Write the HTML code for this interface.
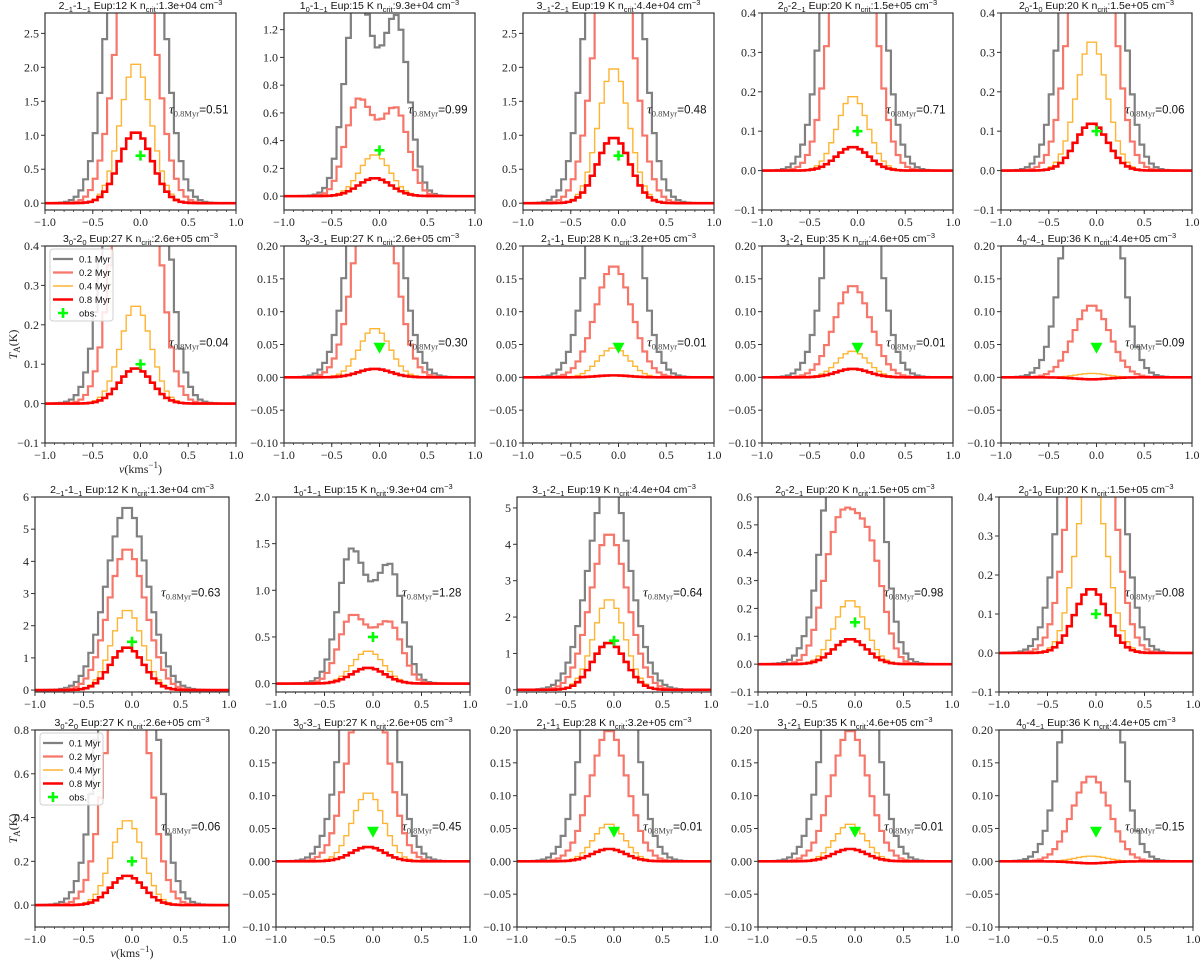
<!DOCTYPE html>
<html><head><meta charset="utf-8"><title>Line profiles grid</title>
<style>
html,body{margin:0;padding:0;background:#fff;}
svg{display:block;}
.tk{font-family:"Liberation Serif",serif;font-size:12px;fill:#222;}
.tt{font-family:"Liberation Sans",sans-serif;font-size:10.5px;fill:#111;}
.lg{font-family:"Liberation Sans",sans-serif;font-size:9.5px;fill:#111;}
</style></head>
<body>
<svg id="fig" width="1200" height="962" viewBox="0 0 1200 962" xmlns="http://www.w3.org/2000/svg"></svg>
<script>
const titles=["2<sub>−1</sub>-1<sub>−1</sub> Eup:12 K n<sub>crit</sub>:1.3e+04 cm<sup>−3</sup>","1<sub>0</sub>-1<sub>−1</sub> Eup:15 K n<sub>crit</sub>:9.3e+04 cm<sup>−3</sup>","3<sub>−1</sub>-2<sub>−1</sub> Eup:19 K n<sub>crit</sub>:4.4e+04 cm<sup>−3</sup>","2<sub>0</sub>-2<sub>−1</sub> Eup:20 K n<sub>crit</sub>:1.5e+05 cm<sup>−3</sup>","2<sub>0</sub>-1<sub>0</sub> Eup:20 K n<sub>crit</sub>:1.5e+05 cm<sup>−3</sup>",
"3<sub>0</sub>-2<sub>0</sub> Eup:27 K n<sub>crit</sub>:2.6e+05 cm<sup>−3</sup>","3<sub>0</sub>-3<sub>−1</sub> Eup:27 K n<sub>crit</sub>:2.6e+05 cm<sup>−3</sup>","2<sub>1</sub>-1<sub>1</sub> Eup:28 K n<sub>crit</sub>:3.2e+05 cm<sup>−3</sup>","3<sub>1</sub>-2<sub>1</sub> Eup:35 K n<sub>crit</sub>:4.6e+05 cm<sup>−3</sup>","4<sub>0</sub>-4<sub>−1</sub> Eup:36 K n<sub>crit</sub>:4.4e+05 cm<sup>−3</sup>"];
const taus=["0.51","0.99","0.48","0.71","0.06","0.04","0.30","0.01","0.01","0.09","0.63","1.28","0.64","0.98","0.08","0.06","0.45","0.01","0.01","0.15"];
const yLo=[-0.1,-0.1,-0.1,-0.1,-0.1, -0.1,-0.1,-0.1,-0.1,-0.1, -0.06,-0.09,-0.06,-0.1,-0.1, -0.1,-0.1,-0.1,-0.1,-0.1];
const yHi=[2.8,1.32,2.8,0.4,0.4, 0.4,0.2,0.2,0.2,0.2, 6,2.0,5.3,0.6,0.4, 0.8,0.2,0.2,0.2,0.2];
const yStep=[0.5,0.2,0.5,0.1,0.1, 0.1,0.05,0.05,0.05,0.05, 1,0.5,1,0.1,0.1, 0.2,0.05,0.05,0.05,0.05];
const xTicks=[-1,-0.5,0,0.5,1];
const xTickLabels=["−1.0","−0.5","0.0","0.5","1.0"];
const grayC=[8,0.75,8,1.5,1.5, 1.8,0.5,0.5,0.5,0.6, 5.7,0.8,5.8,1.3,1.5, 2.5,0.5,0.5,0.5,0.6];
const salmonC=[4.4,0.4,4.3,0.9,0.9, 1.0,0.35,0.17,0.14,0.11, 4.4,0.45,4.3,0.5,0.9, 1.4,0.3,0.2,0.2,0.13];
const orangeC=[2.07,0.3,2.0,0.19,0.33, 0.25,0.075,0.045,0.04,0.006, 2.5,0.35,2.5,0.23,0.45, 0.39,0.105,0.057,0.057,0.008];
const redC=[1.05,0.13,0.97,0.06,0.12, 0.09,0.013,0.003,0.013,-0.003, 1.33,0.17,1.3,0.09,0.165, 0.135,0.022,0.019,0.019,-0.003];
const grayL=[0,1.0,0,0,0, 0,0,0,0,0, 0,0.9,0,0,0, 0,0,0,0,0];
const grayR=[0,0.9,0,0,0, 0,0,0,0,0, 0,0.85,0,0.3,0, 0,0,0,0,0];
const salmonL=[0,0.45,0,0,0, 0,0,0,0,0, 0,0.45,0,0.15,0, 0,0,0,0,0];
const salmonR=[0,0.45,0,0,0, 0,0,0,0,0, 0,0.45,0,0.2,0, 0,0,0,0,0];
const obsVal=[0.7,0.33,0.7,0.1,0.1, 0.1,0.045,0.045,0.045,0.045, 1.5,0.5,1.35,0.15,0.1, 0.2,0.045,0.045,0.045,0.045];
const obsType=["p","p","p","p","p","p","t","t","t","t","p","p","p","p","p","p","t","t","t","t"];
const seriesNames=["0.1 Myr","0.2 Myr","0.4 Myr","0.8 Myr"];

const NS="http://www.w3.org/2000/svg";
const svg=document.getElementById('fig');
function mk(tag,attrs,parent){const e=document.createElementNS(NS,tag);for(const k in attrs)e.setAttribute(k,attrs[k]);(parent||svg).appendChild(e);return e;}
function richText(el,str){
  const re=/<(sub|sup)>(.*?)<\/\1>|([^<]+)/g;let m;
  while((m=re.exec(str))){
    const t=document.createElementNS(NS,'tspan');
    if(m[3]){t.textContent=m[3];}
    else{t.setAttribute('font-size','7.5px');t.setAttribute('baseline-shift',m[1]==='sub'?'-3':'4');t.textContent=m[2];}
    el.appendChild(t);
  }
}
function prof(v,c,l,r,sc){return c*Math.exp(-Math.pow(v+0.05,2)/(2*sc*sc))+l*Math.exp(-Math.pow(v+0.25,2)/(2*0.12*0.12))+r*Math.exp(-Math.pow(v-0.2,2)/(2*0.12*0.12));}

const tops=[13,246,497,730],bots=[210,443,692,927];
for(let p=0;p<20;p++){
  const r=Math.floor(p/5),c=p%5;
  const x0=r<2?45+239*c:35+241*c, w=r<2?191:194;
  const top=tops[r],bot=bots[r];
  const lo=yLo[p],hi=yHi[p];
  const xs=v=>x0+(v+1)/2*w;
  const ys=t=>bot-(t-lo)/(hi-lo)*(bot-top);
  const g=mk('g',{});
  
  
  const cp=mk('clipPath',{id:'cp'+p},g);
  mk('rect',{x:x0,y:top,width:w,height:bot-top},cp);
  const tt=mk('text',{x:x0+w/2,y:top-4,'text-anchor':'middle',class:'tt'},g);
  
  
  richText(tt,titles[p%10]);
  const n0=Math.ceil((lo-1e-9)/yStep[p]),n1=Math.floor((hi+1e-9)/yStep[p]);
  const dec=yStep[p]>=1?0:(yStep[p]<0.1?2:1);
  for(let k=n0;k<=n1;k++){
    const v=k*yStep[p],y=ys(v);
    mk('line',{x1:x0-4,x2:x0,y1:y,y2:y,stroke:'#333','stroke-width':1},g);
    const lb=mk('text',{x:x0-6,y:y+4,'text-anchor':'end',class:'tk'},g);
    
    
    lb.textContent=(v<-1e-9?'−':'')+Math.abs(v).toFixed(dec);
  }
  for(let k=0;k<=20;k++){const x=xs(-1+k*0.1);mk('line',{x1:x,x2:x,y1:bot,y2:bot+2,stroke:'#333','stroke-width':0.8},g);}
  xTicks.forEach((v,i)=>{
    const x=xs(v);
    mk('line',{x1:x,x2:x,y1:bot,y2:bot+4,stroke:'#333','stroke-width':1},g);
    const lb=mk('text',{x:x,y:bot+16,'text-anchor':'middle',class:'tk'},g);
    
    
    lb.textContent=xTickLabels[i];
  });
  const specs=[
    {c:grayC[p],l:grayL[p],r:grayR[p],s:0.21,col:'#808080',wd:2.2,nm:'gray-0.1myr'},
    {c:salmonC[p],l:salmonL[p],r:salmonR[p],s:0.19,col:'#f7766a',wd:2.2,nm:'salmon-0.2myr'},
    {c:orangeC[p],l:0,r:0,s:0.16,col:'#ffb432',wd:1.4,nm:'orange-0.4myr'},
    {c:redC[p],l:0,r:0,s:0.17,col:'#ff0000',wd:2.6,nm:'red-0.8myr'}];
  specs.forEach(sp=>{
    let d='';
    for(let k=0;k<40;k++){
      const e0=-1+k*0.05,e1=e0+0.05,val=prof(e0+0.025,sp.c,sp.l,sp.r,sp.s);
      const y=ys(val);
      d+=(k===0?'M'+xs(e0)+' '+y:' V'+y)+' H'+xs(e1);
    }
    const pa=mk('path',{d:d,fill:'none',stroke:sp.col,'stroke-width':sp.wd,'clip-path':'url(#cp'+p+')'},g);
    
    
  });
  const ox=xs(0),oy=ys(obsVal[p]);
  let ob;
  if(obsType[p]==='p'){ob=mk('path',{d:`M${ox-5} ${oy}H${ox+5}M${ox} ${oy-5}V${oy+5}`,stroke:'#00ff00','stroke-width':2.6,fill:'none'},g);}
  else{ob=mk('path',{d:`M${ox-6} ${oy-5}H${ox+6}L${ox} ${oy+6}Z`,fill:'#00ff00'},g);}
  
  
  const tl=mk('text',{x:xs(0.3),y:top+0.49*(bot-top)+4,class:'tt','font-size':'12px'},g);
  
  
  tl.innerHTML='<tspan font-family="Liberation Serif,serif" font-style="italic" font-size="13px">τ</tspan><tspan font-family="Liberation Serif,serif" font-size="8.5px" baseline-shift="-3" fill="#444">0.8Myr</tspan><tspan font-size="12px">=</tspan><tspan font-size="11.5px">'+taus[p]+'</tspan>';
  const fr=mk('rect',{x:x0,y:top,width:w,height:bot-top,fill:'none',stroke:'#333','stroke-width':1.2},g);
  
  
  if(c===0&&(r===1||r===3)){
    const yl=mk('text',{x:0,y:0,transform:`translate(17,${(top+bot)/2}) rotate(-90)`,'text-anchor':'middle',class:'tk','font-size':'14px'},g);
    
    
    yl.innerHTML='<tspan font-style="italic">T</tspan><tspan font-size="9px" baseline-shift="-3">A</tspan><tspan>(K)</tspan>';
    const xl=mk('text',{x:x0+w/2,y:bot+30,'text-anchor':'middle',class:'tk','font-size':'14px'},g);
    
    
    xl.innerHTML='<tspan font-style="italic">v</tspan><tspan>(kms</tspan><tspan font-size="9px" baseline-shift="5">−1</tspan><tspan>)</tspan>';
    const lgX=x0+5,lgY=top+3;
    const lg=mk('g',{},g);
    
    
    mk('rect',{x:lgX,y:lgY,width:63,height:72,rx:3,fill:'#fff','fill-opacity':0.85,stroke:'#d0d0d0'},lg);
    const cols=['#808080','#f7766a','#ffb432','#ff0000'],wds=[2.2,2.2,1.4,2.6];
    for(let i=0;i<5;i++){
      const yy=lgY+10+i*13.5;
      if(i<4){mk('line',{x1:lgX+3,x2:lgX+23,y1:yy,y2:yy,stroke:cols[i],'stroke-width':wds[i]},lg);}
      else{mk('path',{d:`M${lgX+8} ${yy}H${lgX+18}M${lgX+13} ${yy-5}V${yy+5}`,stroke:'#00ff00','stroke-width':2.6},lg);}
      const le=mk('text',{x:lgX+29,y:yy+3.5,class:'lg'},lg);
      
      
      le.textContent=i<4?seriesNames[i]:'obs.';
    }
  }
}
</script>
</body></html>
